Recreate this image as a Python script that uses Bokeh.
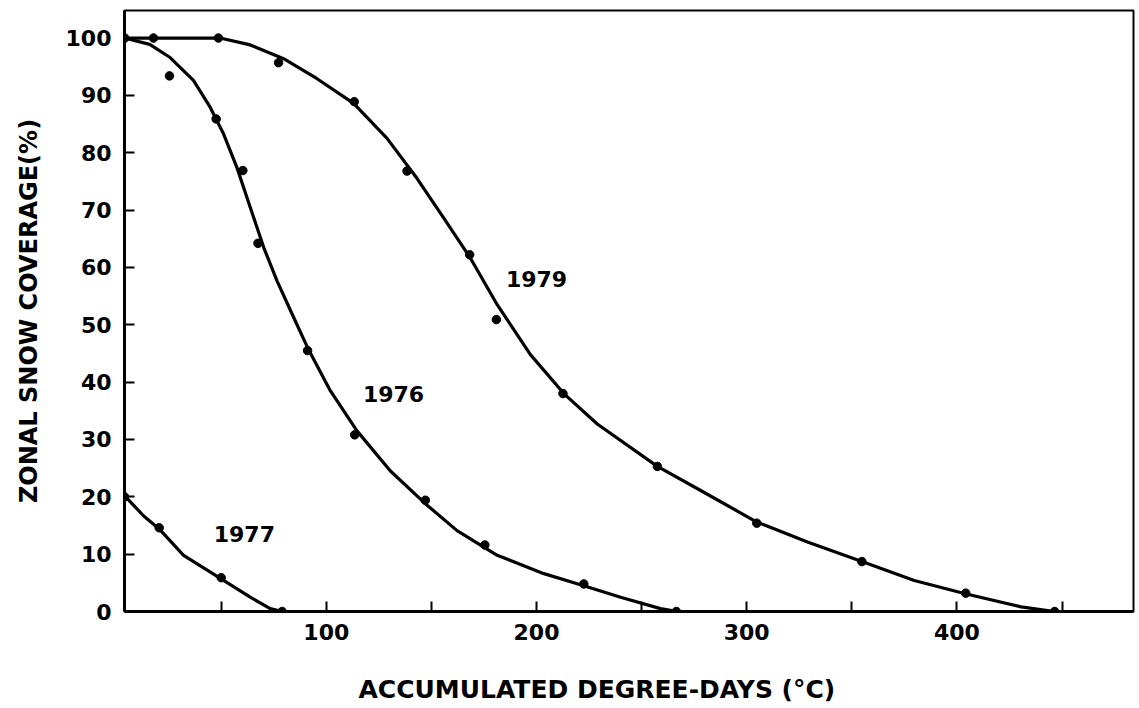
from bokeh.plotting import figure
from bokeh.models import FixedTicker, Label, Range1d, Title
from bokeh.embed import file_html
from bokeh.resources import INLINE

# ---------------- data ----------------
# measured points
x1976 = [4, 25.4, 47.6, 60.3, 67.5, 91.1, 113.5, 147.1, 175.4, 222.5, 266.5]
y1976 = [100, 93.4, 85.9, 76.9, 64.2, 45.5, 30.8, 19.4, 11.6, 4.8, 0]

x1977 = [4, 20.5, 50, 79]
y1977 = [20, 14.6, 5.9, 0]

x1979 = [4, 17.8, 48.7, 77.3, 113.3, 138.4, 168.2, 180.9, 212.6, 257.5, 304.8, 354.8, 404.2, 446.5]
y1979 = [100, 100, 100, 95.7, 88.9, 76.8, 62.2, 50.9, 38.0, 25.3, 15.4, 8.7, 3.2, 0]

# fitted curves
cx1976 = [4, 16, 25.7, 36.8, 44.8, 51.1, 57.5, 63.8, 70.2, 76.5, 85.2, 91.1, 101.9, 114.6,
          130.5, 147.1, 162.2, 181.3, 203.5, 222.5, 240, 259, 267]
cy1976 = [100, 98.9, 96.6, 92.6, 87.9, 83.3, 77.4, 70.5, 63.5, 57.7, 50.7, 46.0, 38.5, 31.5,
          24.5, 18.8, 14.1, 9.8, 6.6, 4.5, 2.5, 0.5, 0]

cx1977 = [4, 13.0, 20.5, 32.1, 50, 63.8, 73.3, 79]
cy1977 = [20.2, 16.7, 14.4, 9.8, 5.7, 2.5, 0.5, 0]

cx1979 = [4, 49.5, 63.8, 79.7, 95.6, 113, 128.9, 143.2, 155.9, 168.6, 181.3, 197.1, 213,
          228.9, 257.5, 278.1, 304.8, 328.9, 354.8, 379.7, 404, 430.5, 446.5]
cy1979 = [100, 100, 98.8, 96.4, 92.9, 88.6, 82.5, 75.5, 68.6, 61.6, 53.5, 44.8, 38.0,
          32.7, 25.3, 21.1, 15.6, 12.1, 8.7, 5.4, 3.1, 0.8, 0]

x_ticks = [100, 200, 300, 400]
x_minor_ticks = [50, 150, 250, 350, 450]
y_ticks = [0, 10, 20, 30, 40, 50, 60, 70, 80, 90, 100]

year_labels = ["1976", "1977", "1979"]
x_title = "ACCUMULATED DEGREE-DAYS  (°C)"
y_title = "ZONAL SNOW COVERAGE(%)"

# ---------------- figure ----------------
FONT = "DejaVu Sans"

p = figure(width=1137, height=707, x_range=Range1d(4, 484), y_range=Range1d(0, 104.8),
           output_backend="svg", toolbar_location=None, title=None,
           min_border_left=124, min_border_right=4, min_border_top=10, min_border_bottom=96)

p.background_fill_color = "white"
p.border_fill_color = "white"
p.outline_line_color = "black"
p.outline_line_width = 2
p.xgrid.visible = False
p.ygrid.visible = False

for ax in (p.xaxis[0], p.yaxis[0]):
    ax.axis_line_width = 3
    ax.axis_line_color = "black"
    ax.major_tick_in = 10
    ax.major_tick_out = 0
    ax.minor_tick_in = 10
    ax.minor_tick_out = 0
    ax.major_tick_line_width = 2
    ax.minor_tick_line_width = 2
    ax.major_tick_line_color = "black"
    ax.minor_tick_line_color = "black"
    ax.major_label_text_font = FONT
    ax.major_label_text_font_style = "bold"
    ax.major_label_text_font_size = "22px"
    ax.major_label_text_color = "black"

p.xaxis.ticker = FixedTicker(ticks=x_ticks, minor_ticks=x_minor_ticks)
p.yaxis.ticker = FixedTicker(ticks=y_ticks)
p.xaxis.major_label_standoff = 12
p.yaxis.major_label_standoff = 13

# blank spacer label under the x tick labels (pushes the x title down)
p.xaxis.axis_label = " "
p.xaxis.axis_label_text_font_size = "24px"
p.xaxis.axis_label_standoff = 0

p.yaxis.axis_label = y_title
p.yaxis.axis_label_text_font = FONT
p.yaxis.axis_label_text_font_style = "bold"
p.yaxis.axis_label_text_font_size = "24px"
p.yaxis.axis_label_text_color = "black"
p.yaxis.axis_label_standoff = 20

xt = Title(text=x_title, align="left", offset=234, standoff=0, text_font=FONT,
           text_font_style="bold", text_font_size="25px", text_color="black")
p.add_layout(xt, "below")

# curves
for cx, cy in ((cx1976, cy1976), (cx1977, cy1977), (cx1979, cy1979)):
    p.line(cx, cy, line_width=3.2, line_color="black", line_join="round", line_cap="round")

# points
for px, py in ((x1976, y1976), (x1977, y1977), (x1979, y1979)):
    p.scatter(px, py, size=8.5, marker="circle", fill_color="black", line_color="black")

# year labels
for txt, lx, ly in zip(year_labels, [132, 61, 200], [38, 13.5, 57.9]):
    p.add_layout(Label(x=lx, y=ly, text=txt, text_font=FONT, text_font_style="bold",
                       text_font_size="22px", text_align="center", text_baseline="middle",
                       text_color="black"))

open("out.html", "w", encoding="utf-8").write(file_html(p, INLINE))
